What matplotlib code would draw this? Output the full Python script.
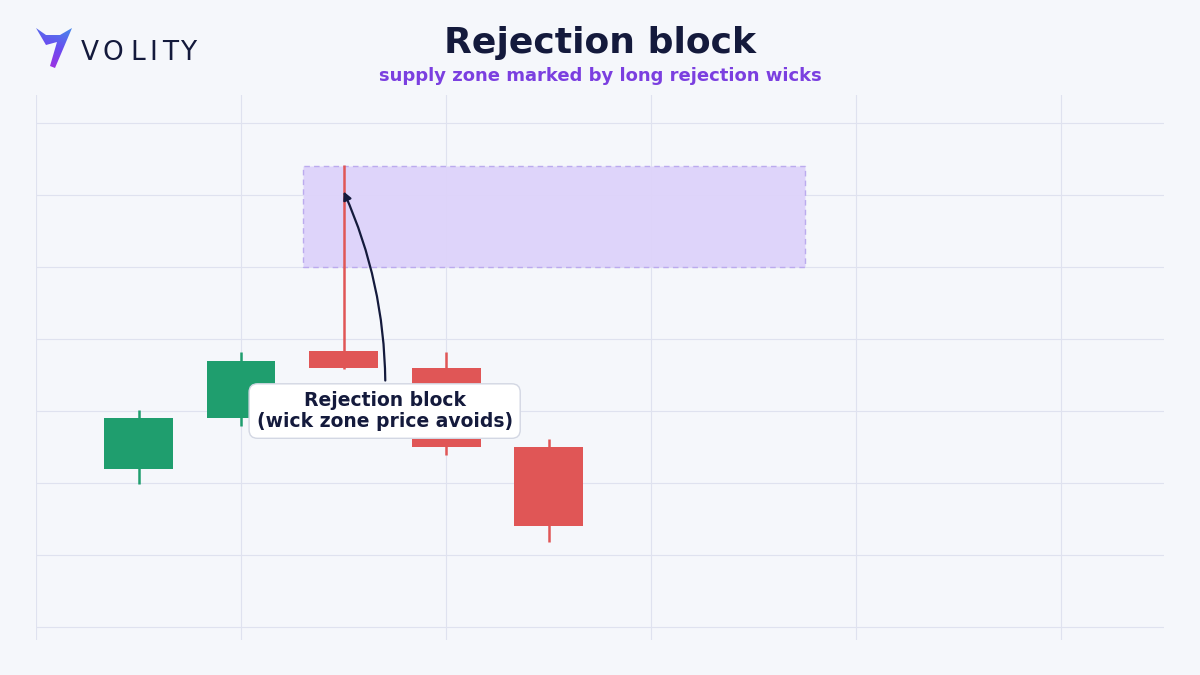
import matplotlib
matplotlib.use("Agg")
import matplotlib.pyplot as plt
from matplotlib.patches import Rectangle, Polygon
from matplotlib.colors import LinearSegmentedColormap
import numpy as np

plt.rcParams['font.family'] = ['DejaVu Sans']

# ---- data ----
idx = [0, 1, 2, 3, 4]
opens = [2.19, 2.90, 3.83, 3.60, 2.50]
closes = [2.90, 3.69, 3.60, 2.50, 1.40]
highs = [3.01, 3.82, 6.42, 3.82, 2.61]
lows = [1.99, 2.79, 3.58, 2.39, 1.18]
zone_x = [1.6, 6.5]
zone_y = [5.0, 6.4]
title = "Rejection block"
subtitle = "supply zone marked by long rejection wicks"
note = "Rejection block\n(wick zone price avoids)"
note_xy = (2.0, 6.05)
note_text_xy = (2.4, 3.0)

BG = "#f5f7fb"
GREEN = "#1f9e6e"
RED = "#e05656"
NAVY = "#141a3c"
PURPLE = "#7b3fe0"
GRID = "#dfe2ef"

W, H = 1200, 675
fig = plt.figure(figsize=(12, 6.75), dpi=100, facecolor=BG)
ax = fig.add_axes([36 / W, 1 - 640 / H, (1164 - 36) / W, (640 - 95) / H])
ax.set_facecolor(BG)
ax.set_xlim(-1, 10)
ax.set_ylim(-0.18, 7.39)
ax.set_xticks([-1, 1, 3, 5, 7, 9])
ax.set_yticks(range(0, 8))
ax.grid(True, color=GRID, linewidth=0.8)
ax.tick_params(length=0, labelbottom=False, labelleft=False)
for s in ax.spines.values():
    s.set_visible(False)
ax.set_axisbelow(True)

# zone
ax.add_patch(Rectangle((zone_x[0], zone_y[0]), zone_x[1] - zone_x[0], zone_y[1] - zone_y[0],
                       facecolor="#ddd3fa", edgecolor="#b9a8ee", linestyle=(0, (4, 3)),
                       linewidth=1.0, alpha=0.95, zorder=1))

bw = 0.67
for i, o, c, h, l in zip(idx, opens, closes, highs, lows):
    col = GREEN if c >= o else RED
    ax.plot([i, i], [l, h], color=col, linewidth=1.8, zorder=2, solid_capstyle="butt")
    ax.add_patch(Rectangle((i - bw / 2, min(o, c)), bw, abs(c - o), facecolor=col,
                           edgecolor="none", zorder=3))

ax.annotate(note, xy=note_xy, xytext=note_text_xy, ha="center", va="center",
            fontsize=13.5, fontweight="bold", color=NAVY, zorder=5, linespacing=1.1,
            bbox=dict(boxstyle="round,pad=0.4,rounding_size=0.45", facecolor="white",
                      edgecolor="#d3d7e3", linewidth=1.0),
            arrowprops=dict(arrowstyle="-|>", color=NAVY, linewidth=1.6,
                            connectionstyle="arc3,rad=0.12", mutation_scale=12,
                            shrinkA=2, shrinkB=0))

fig.text(600 / W, 1 - 43 / H, title, ha="center", va="center", fontsize=26,
         fontweight="bold", color=NAVY)
fig.text(600 / W, 1 - 76 / H, subtitle, ha="center", va="center", fontsize=13,
         fontweight="bold", color=PURPLE)

# logo
lax = fig.add_axes([30 / W, 1 - 75 / H, 50 / W, 55 / H])
lax.set_xlim(30, 80)
lax.set_ylim(75, 20)
lax.axis("off")
poly = Polygon([(36, 28), (46, 35), (60, 35), (72, 28), (55, 68), (50, 66), (57, 42), (46, 45)],
               closed=True, facecolor="none", edgecolor="none")
lax.add_patch(poly)
yy, xx = np.mgrid[0:1:100j, 0:1:100j]
grad = 0.75 * yy + 0.25 * (1 - xx)
cm = LinearSegmentedColormap.from_list("logo", ["#38a3e8", "#6a4cf0", "#c21fd8"])
im = lax.imshow(grad, cmap=cm, extent=(30, 80, 75, 20), aspect="auto")
im.set_clip_path(poly)

letters = ["V", "O", "L", "I", "T", "Y"]
lx = [90, 113, 138, 153.5, 170, 188.5]
for ch, x in zip(letters, lx):
    fig.text(x / W, 1 - 52.5 / H, ch, ha="center", va="center", fontsize=19,
             color=NAVY, fontweight="normal")

fig.savefig("out.png", dpi=100, facecolor=BG)
